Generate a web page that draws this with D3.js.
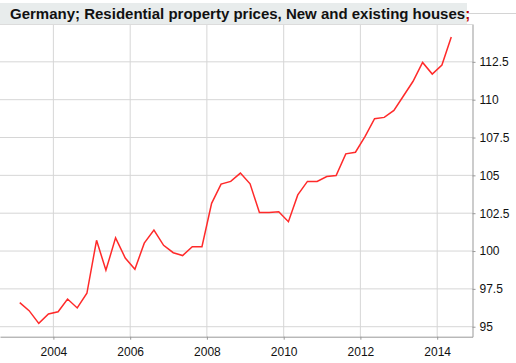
<!DOCTYPE html>
<html>
<head>
<meta charset="utf-8">
<script src="https://cdn.jsdelivr.net/npm/d3@7"></script>
<style>
body { margin: 0; background: #fff; }
svg { display: block; font-family: "Liberation Sans", Arial, sans-serif; }
</style>
</head>
<body>
<div id="app"></div>
<script>
var width = 516;
var height = 363;

var titleText = "Germany; Residential property prices, New and existing houses";

// quarterly, 2003Q1 .. 2014Q2
var quarters = [];
for (var yr = 2003; yr <= 2014; yr++) {
    for (var q = 0; q < 4; q++) quarters.push(new Date(yr, q * 3 + 1, 15));
}
var prices = [96.59, 96.06, 95.22, 95.84, 95.99, 96.83, 96.24, 97.21,
              100.71, 98.73, 100.87, 99.54, 98.80, 100.52, 101.38, 100.38,
              99.89, 99.70, 100.29, 100.29, 103.15, 104.42, 104.60, 105.15,
              104.44, 102.54, 102.54, 102.60, 101.94, 103.71, 104.60, 104.60,
              104.92, 104.99, 106.42, 106.53, 107.57, 108.74, 108.83, 109.29,
              110.26, 111.20, 112.46, 111.69, 112.29, 114.14];
var yearTicks = [2004, 2006, 2008, 2010, 2012, 2014];
var valueTicks = [95, 97.5, 100, 102.5, 105, 107.5, 110, 112.5];

var plotLeft = 0, plotRight = 472.5, plotTop = 24, plotBottom = 336.7;

var svg = d3.select("#app").append("svg")
    .attr("width", width)
    .attr("height", height);

var x = d3.scaleTime()
    .domain([new Date(2002, 7, 11), new Date(2014, 11, 3)])
    .range([plotLeft, plotRight]);

var y = d3.scaleLinear()
    .domain([94.34, 115.0])
    .range([plotBottom, plotTop]);

// title strip
svg.append("line")
    .attr("x1", 0).attr("x2", width)
    .attr("y1", 13.5).attr("y2", 13.5)
    .attr("stroke", "#d4d4d4");
svg.append("rect")
    .attr("x", 0).attr("y", 3)
    .attr("width", 467).attr("height", 21)
    .attr("fill", "#e8ecec");
var title = svg.append("text")
    .attr("x", 10).attr("y", 19)
    .attr("font-size", 15)
    .attr("font-weight", "bold")
    .attr("fill", "#111")
    .text(titleText);
title.append("tspan").attr("fill", "#b00").text(";");

// grid
var grid = svg.append("g");
grid.selectAll(".vg")
    .data(yearTicks)
    .enter().append("line")
    .attr("x1", function(d) { return x(new Date(d, 0, 1)); })
    .attr("x2", function(d) { return x(new Date(d, 0, 1)); })
    .attr("y1", plotTop).attr("y2", plotBottom)
    .attr("stroke", "#d6d6d6");
grid.selectAll(".hg")
    .data(valueTicks)
    .enter().append("line")
    .attr("x1", plotLeft).attr("x2", plotRight)
    .attr("y1", function(d) { return y(d); })
    .attr("y2", function(d) { return y(d); })
    .attr("stroke", "#d6d6d6");

svg.append("line")
    .attr("x1", plotLeft).attr("x2", plotRight)
    .attr("y1", plotTop + 0.5).attr("y2", plotTop + 0.5)
    .attr("stroke", "#dcdcdc");

// axes
var xAxis = d3.axisBottom(x)
    .tickValues(yearTicks.map(function(d) { return new Date(d, 0, 1); }))
    .tickFormat(d3.timeFormat("%Y"))
    .tickSize(3)
    .tickSizeOuter(0);
var gx = svg.append("g")
    .attr("transform", "translate(0," + plotBottom + ")")
    .call(xAxis);
gx.select(".domain").attr("stroke", "#999");
gx.selectAll(".tick line").attr("stroke", "#999");
gx.selectAll("text").attr("font-size", 12).attr("fill", "#111").attr("dy", "1.1em")
    .attr("font-family", "Liberation Sans, Arial, sans-serif");

var yAxis = d3.axisRight(y)
    .tickValues(valueTicks)
    .tickFormat(function(d) { return d; })
    .tickSize(3)
    .tickSizeOuter(0);
var gy = svg.append("g")
    .attr("transform", "translate(" + plotRight + ",0)")
    .call(yAxis);
gy.select(".domain").attr("stroke", "#999");
gy.selectAll(".tick line").attr("stroke", "#999");
gy.selectAll("text").attr("font-size", 12).attr("fill", "#111").attr("x", 7)
    .attr("font-family", "Liberation Sans, Arial, sans-serif");

// series
var line = d3.line()
    .x(function(d, i) { return x(quarters[i]); })
    .y(function(d) { return y(d); });

svg.append("path")
    .datum(prices)
    .attr("d", line)
    .attr("fill", "none")
    .attr("stroke", "#ff2a2a")
    .attr("stroke-width", 1.5);
</script>
</body>
</html>
